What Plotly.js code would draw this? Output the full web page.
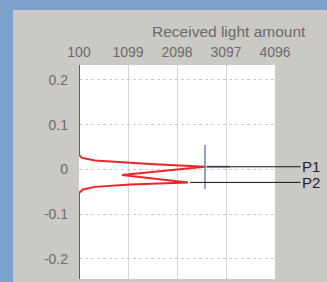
<!DOCTYPE html>
<html>
<head>
<meta charset="utf-8">
<script src="https://cdn.plot.ly/plotly-3.0.1.min.js"></script>
<style>
  html, body { margin: 0; padding: 0; background: #7ba2cc; width: 327px; height: 282px; overflow: hidden; }
  #chart { position: absolute; left: 13px; top: 10px; width: 314px; height: 272px; }
</style>
</head>
<body>
<div id="chart"></div>
<script>
// Received light amount (x) vs position (y) profile
const curveX = [100, 100, 161, 426, 1548, 2669, 977, 2323, 1140, 426, 182, 100, 100];
const curveY = [0.2335, 0.0324, 0.0257, 0.0201, 0.0123, 0.006, -0.0123, -0.029, -0.0335, -0.039, -0.0447, -0.0525, -0.245];

const xTicks = [100, 1099, 2098, 3097, 4096];
const xTickText = ['100', '1099', '2098', '3097', '4096'];
const yTicks = [-0.2, -0.1, 0, 0.1, 0.2];
const yTickText = ['-0.2', '-0.1', '0', '0.1', '0.2'];

const peakNames = ['P1', 'P2'];
const peakX = [2669, 2323];
const peakY = [0.006, -0.029];

// cursor crosshair at P1
const cursorVX = [2669, 2669];
const cursorVY = [0.055, -0.0436];
const cursorHX = [2669, 3179];
const cursorHY = [0.006, 0.006];

const font = 'Liberation Sans, Arial, Helvetica, sans-serif';
const grey = '#6b6b6b';

const traces = [
  { x: cursorVX, y: cursorVY, mode: 'lines', line: { color: '#8ea0c4', width: 2 }, hoverinfo: 'skip', showlegend: false },
  { x: cursorHX, y: cursorHY, mode: 'lines', line: { color: '#8ea0c4', width: 2 }, hoverinfo: 'skip', showlegend: false },
  { x: curveX, y: curveY, mode: 'lines', line: { color: '#e8262a', width: 2 }, showlegend: false }
];

const annotations = peakNames.map((n, i) => ({
  x: peakX[i], y: peakY[i], xref: 'x', yref: 'y',
  text: n, showarrow: true, arrowhead: 0, arrowwidth: 1, arrowcolor: '#111',
  ax: 311 - (79 + (peakX[i] - 100) / 3996 * 196), ay: 0, standoff: 2,
  font: { family: font, size: 15, color: '#222' }, xanchor: 'center', yanchor: 'middle'
}));
annotations.push({
  xref: 'paper', yref: 'paper', x: 1.168, y: 1.155, xanchor: 'right', yanchor: 'middle',
  text: 'Received light amount', showarrow: false,
  font: { family: font, size: 15.5, color: grey }
});

const layout = {
  width: 314, height: 272,
  margin: { l: 66, r: 52, t: 55, b: 3, autoexpand: false },
  paper_bgcolor: '#cac9c5',
  plot_bgcolor: '#ffffff',
  showlegend: false,
  font: { family: font, size: 14, color: grey },
  xaxis: {
    range: [100, 4096], side: 'top', tickvals: xTicks, ticktext: xTickText,
    showgrid: true, gridcolor: '#ddd3d3', gridwidth: 1, zeroline: false,
    showline: false, ticks: '', ticklabelstandoff: 4, automargin: false,
    tickfont: { family: font, size: 14, color: grey }
  },
  yaxis: {
    range: [-0.245, 0.2335], tickvals: yTicks, ticktext: yTickText,
    showgrid: true, gridcolor: '#d0c8c8', griddash: 'dot', gridwidth: 1, zeroline: false,
    showline: false, ticks: '', ticklabelstandoff: 10, automargin: false,
    tickfont: { family: font, size: 14, color: grey }
  },
  annotations: annotations
};

Plotly.newPlot('chart', traces, layout, { displayModeBar: false, staticPlot: true });
</script>
</body>
</html>
